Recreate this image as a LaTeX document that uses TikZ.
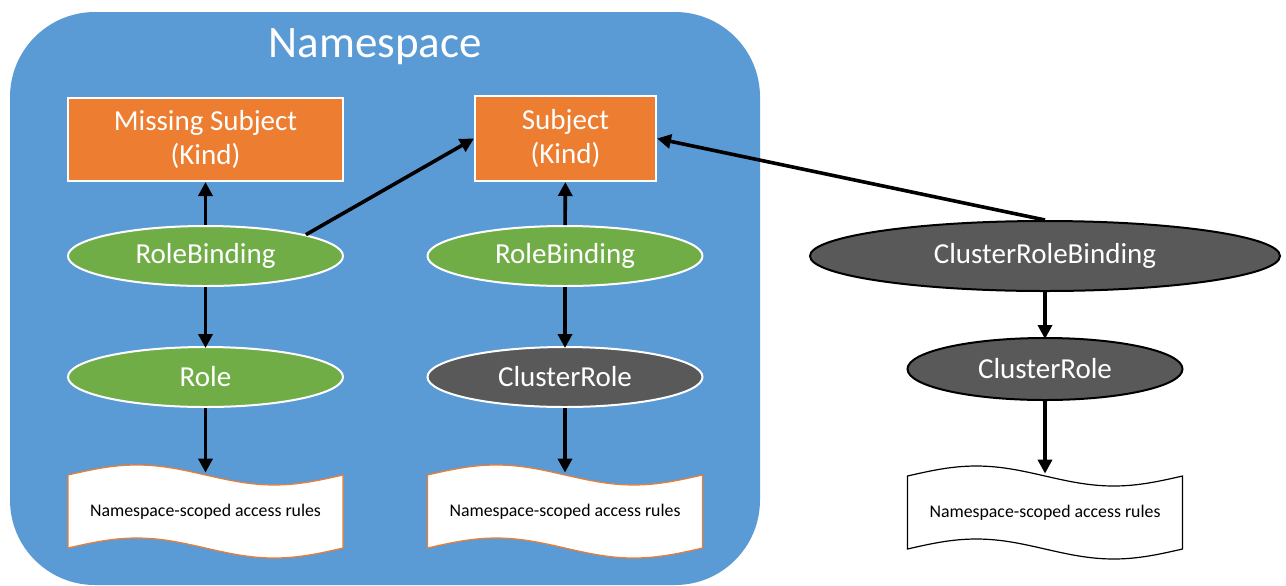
\documentclass[tikz,border=0pt]{standalone}
\usepackage{fontspec}
\setmainfont{Carlito}
\usetikzlibrary{shapes.geometric,arrows.meta}
\definecolor{nsblue}{HTML}{5B9BD5}
\definecolor{korange}{HTML}{ED7D31}
\definecolor{kgreen}{HTML}{70AD47}
\definecolor{kgray}{HTML}{595959}
\tikzset{
  kbox/.style={rectangle,fill=korange,draw=white,line width=1pt,text=white,align=center,inner sep=0pt,font=\fontsize{14.5}{17}\selectfont},
  gell/.style={ellipse,fill=kgreen,draw=white,line width=1pt,text=white,inner sep=0pt,minimum width=137.5pt,minimum height=30pt,font=\fontsize{14.5}{17}\selectfont},
  dell/.style={ellipse,fill=kgray,draw=white,line width=1pt,text=white,inner sep=0pt,minimum width=137.5pt,minimum height=30pt,font=\fontsize{14.5}{17}\selectfont},
  dellb/.style={dell,draw=black},
  doctext/.style={rectangle,inner sep=0pt,minimum width=137.5pt,minimum height=36.5pt,font=\fontsize{8.9}{10}\selectfont,text=black},
  conn/.style={line width=1.8pt,-{Triangle[length=7pt,width=7pt]}},
}
\newcommand\wavedoc[4]{% name, center x, border colour, top y
  \path[fill=white,draw=#3,line width=0.6pt]
    (#2-137.5,#4) sin (#2-68.75,#4-10) cos (#2,#4) sin (#2+68.75,#4+10) cos (#2+137.5,#4)
    -- (#2+137.5,#4+73) sin (#2+68.75,#4+83) cos (#2,#4+73) sin (#2-68.75,#4+63) cos (#2-137.5,#4+73) -- cycle;
  \node[doctext] (#1) at (#2,#4+36.5) {Namespace-scoped access rules};
}
\begin{document}
\begin{tikzpicture}[x=0.5pt,y=-0.5pt]
\useasboundingbox (0,0) rectangle (1286,585);
\fill[white] (0,0) rectangle (1286,585);
% namespace container
\node[rectangle,rounded corners=42.5pt,fill=nsblue,minimum width=375pt,minimum height=286.5pt,inner sep=0pt] (ns) at (385,298.5) {};
\node[text=white,font=\fontsize{22.5}{26}\selectfont] (nstitle) at (375,47) {Namespace};
% subjects
\node[kbox,minimum width=137.5pt,minimum height=41.5pt] (ms) at (205.5,139.5) {Missing Subject\\(Kind)};
\node[kbox,minimum width=90.5pt,minimum height=42.5pt] (subj) at (565.5,138.5) {Subject\\(Kind)};
% left column
\node[gell] (rb1) at (205.5,256) {RoleBinding};
\node[gell] (role) at (205.5,377) {Role};
\wavedoc{d1}{205.5}{korange}{475}
% middle column
\node[gell] (rb2) at (565,256) {RoleBinding};
\node[dell] (cr1) at (565,377) {ClusterRole};
\wavedoc{d2}{565}{korange}{475}
% right column
\node[dellb,minimum width=235pt,minimum height=35pt] (crb) at (1045,256) {ClusterRoleBinding};
\node[dellb,minimum height=31pt] (cr2) at (1045,369) {ClusterRole};
\wavedoc{d3}{1045}{black}{476}
% connectors
\draw[conn] (rb1) -- (ms);
\draw[conn] (rb1) -- ([yshift=-1pt]role.north);
\draw[conn] (role) -- ([yshift=1pt]d1.north);
\draw[conn] (rb1.12) -- (subj.west);
\draw[conn] (rb2) -- (subj);
\draw[conn] (rb2) -- ([yshift=-1pt]cr1.north);
\draw[conn] (cr1) -- ([yshift=1pt]d2.north);
\draw[conn] (crb.north) -- (subj.east);
\draw[conn] (crb.south) -- ([yshift=-1pt]cr2.north);
\draw[conn] (cr2) -- ([yshift=1pt]d3.north);
\end{tikzpicture}
\end{document}
